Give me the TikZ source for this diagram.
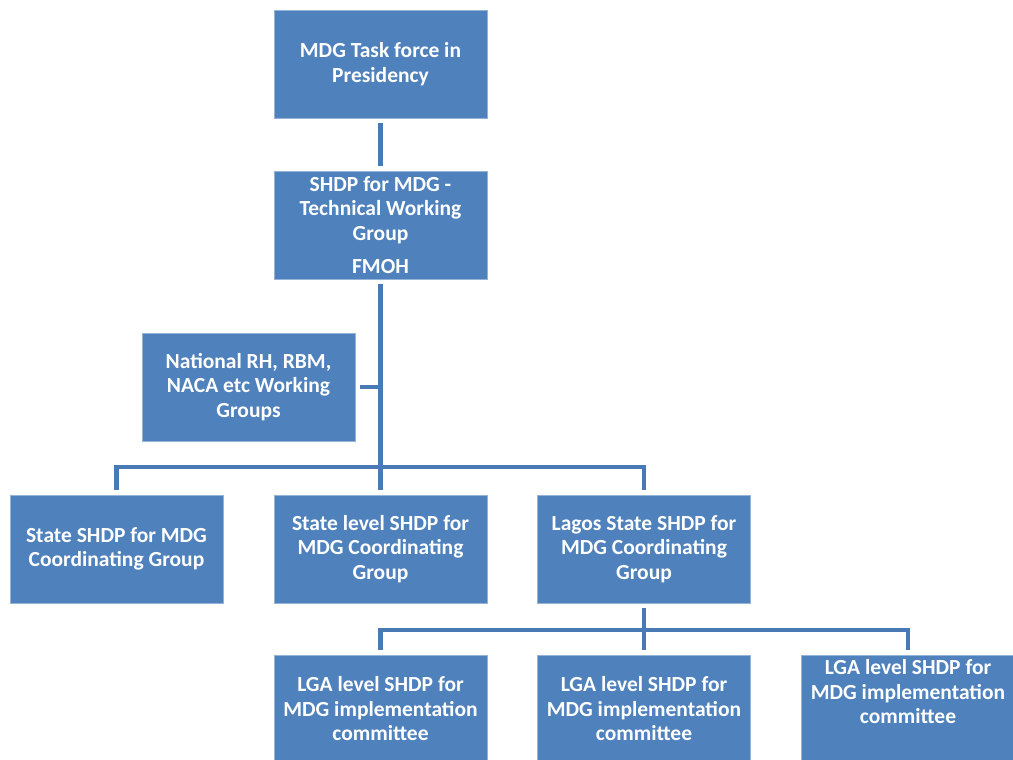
\documentclass[tikz,border=0pt]{standalone}
\usepackage{fontspec}
\setmainfont{Carlito}
\definecolor{boxblue}{HTML}{4F81BD}
\definecolor{lineblue}{HTML}{4A7AB5}
\begin{document}
\begin{tikzpicture}[x=1pt,y=-1pt,
  orgbox/.style={rectangle, fill=boxblue, draw=boxblue!60!white, line width=0.6pt,
    minimum width=213pt, minimum height=108pt, inner sep=2pt,
    text=white, align=center, font=\fontsize{21.5}{24.5}\selectfont\bfseries},
  conn/.style={draw=lineblue, line width=4.6pt, shorten <=5pt, shorten >=5pt}]
\useasboundingbox (0,0) rectangle (1013,760);

\node[orgbox] (t1) at (380.5,64) {MDG Task force in\\Presidency};
\node[orgbox] (t2) at (380.5,225) {SHDP for MDG -\\Technical Working\\Group\\[9pt]FMOH};
\node[orgbox] (nat) at (248.5,387) {National RH, RBM,\\NACA etc Working\\Groups};
\node[orgbox] (s1) at (116.5,549) {State SHDP for MDG\\Coordinating Group};
\node[orgbox] (s2) at (380.5,549) {State level SHDP for\\MDG Coordinating\\Group};
\node[orgbox] (s3) at (644,549) {Lagos State SHDP for\\MDG Coordinating\\Group};
\node[orgbox] (l1) at (380.5,709) {LGA level SHDP for\\MDG implementation\\committee};
\node[orgbox] (l2) at (644,709) {LGA level SHDP for\\MDG implementation\\committee};
\node[orgbox] (l3) at (908,709) {LGA level SHDP for\\MDG implementation\\committee\\[10pt]\mbox{}};

\coordinate (j0) at (380.5,387);
\coordinate (j1) at (380.5,467);
\coordinate (j2) at (644,630);

\draw[conn] (t1) -- (t2);
\draw[conn, shorten >=0pt] (t2) -- (j1);
\draw[conn, shorten >=0pt] (nat) -- (j0);
\draw[conn, shorten <=0pt] (j1) -| (s1);
\draw[conn, shorten <=0pt] (j1) -- (s2);
\draw[conn, shorten <=0pt] (j1) -| (s3);
\draw[conn, shorten >=0pt] (s3) -- (j2);
\draw[conn, shorten <=0pt] (j2) -| (l1);
\draw[conn, shorten <=0pt] (j2) -- (l2);
\draw[conn, shorten <=0pt] (j2) -| (l3);
\end{tikzpicture}
\end{document}
